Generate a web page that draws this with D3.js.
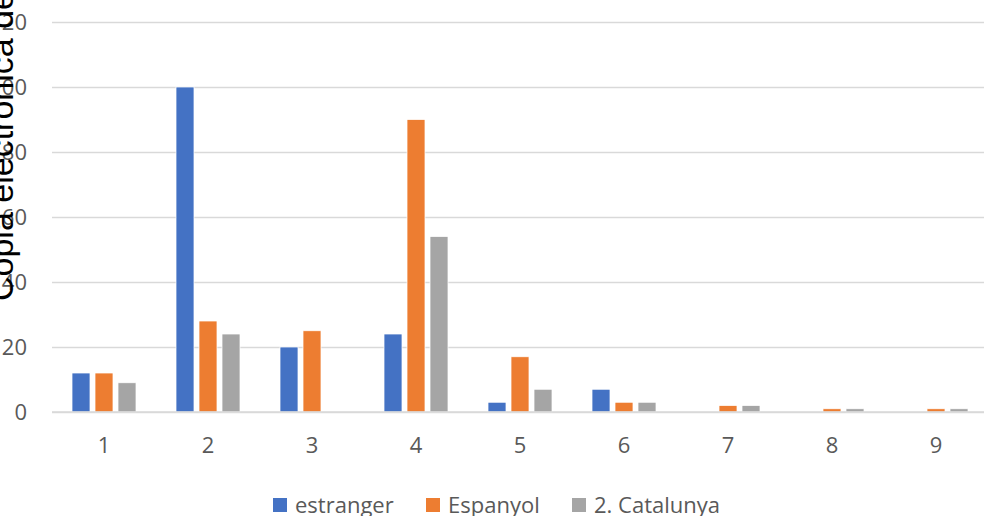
<!DOCTYPE html>
<html><head><meta charset="utf-8">
<script src="https://cdn.jsdelivr.net/npm/d3@7"></script>
<style>html,body{margin:0;padding:0;background:#fff;overflow:hidden}</style>
</head><body><svg id="c" width="984" height="516"></svg>
<script>
const categories = ["1","2","3","4","5","6","7","8","9"];
const seriesNames = ["estranger","Espanyol","2. Catalunya"];
const estranger = [12,100,20,24,3,7,0,0,0];
const espanyol = [12,28,25,90,17,3,2,1,1];
const catalunya = [9,24,0,54,7,3,2,1,1];
const yTicks = [0,20,40,60,80,100,120];
const colors = ["#4472C4","#ED7D31","#A5A5A5"];
const yTitle = "Copia electrónica de";

const values = [estranger, espanyol, catalunya];
const svg = d3.select("#c");
const font = "'Open Sans', sans-serif";

const x0 = d3.scaleBand().domain(categories).range([52, 988]).padding(0);
const x1 = d3.scaleBand().domain(seriesNames).range([20, 84]).paddingInner(5/23).paddingOuter(0);
const y = d3.scaleLinear().domain([0,120]).range([412,22]);

// gridlines
const yAxis = d3.axisLeft(y).tickValues(yTicks).tickSize(-(984-52)).tickPadding(25);
const gy = svg.append("g").attr("transform","translate(52,0)").call(yAxis);
gy.select(".domain").remove();
gy.selectAll(".tick line").attr("stroke","#d9d9d9").attr("stroke-width",1.5);
gy.selectAll(".tick text").attr("fill","#595959").style("font-family",font).style("font-size","22px").attr("dy","0.36em");

// bars
const g = svg.append("g");
categories.forEach((c,i)=>{
  seriesNames.forEach((s,j)=>{
    const v = values[j][i];
    if (v<=0) return;
    g.append("rect")
      .attr("x", x0(c)+x1(s))
      .attr("y", y(v))
      .attr("width", x1.bandwidth())
      .attr("height", y(0)-y(v))
      .attr("fill", colors[j])
      .attr("stroke","#fff").attr("stroke-width",0.75);
  });
});

// x axis
const xAxis = d3.axisBottom(x0).tickSize(0).tickPadding(25);
const gx = svg.append("g").attr("transform","translate(0,412)").call(xAxis);
gx.select(".domain").attr("stroke","#d9d9d9").attr("stroke-width",1.5).attr("d","M52,0H984");
gx.selectAll(".tick text").attr("fill","#595959").style("font-family",font).style("font-size","22px");

// y title
svg.append("text")
  .attr("transform","translate(12.5,301) rotate(-90)")
  .attr("text-anchor","start")
  .style("font-family","'Liberation Sans', Arial, sans-serif")
  .style("font-size","34px")
  .attr("fill","#000")
  .text(yTitle);

// legend
const legX = [273, 426, 572];
const leg = svg.append("g");
seriesNames.forEach((s,j)=>{
  leg.append("rect").attr("x",legX[j]).attr("y",498).attr("width",14).attr("height",14).attr("fill",colors[j]);
  leg.append("text").attr("x",legX[j]+22).attr("y",513)
    .attr("fill","#595959").style("font-family",font).style("font-size","22px").text(s);
});
</script></body></html>
